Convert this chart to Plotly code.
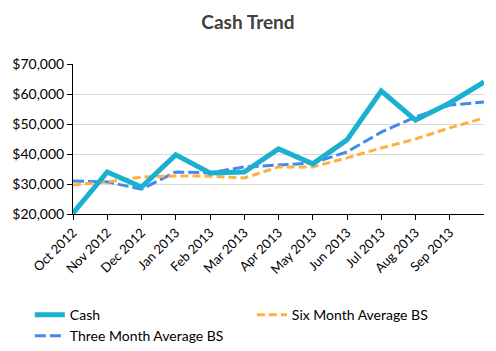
import plotly.graph_objects as go

months = ["Oct 2012", "Nov 2012", "Dec 2012", "Jan 2013", "Feb 2013", "Mar 2013",
          "Apr 2013", "May 2013", "Jun 2013", "Jul 2013", "Aug 2013", "Sep 2013", ""]
cash = [20300, 34000, 29000, 39700, 33700, 34000, 41700, 36700, 44700, 61000, 51300, 57000, 64000]
three_month = [31000, 30700, 28300, 34000, 33700, 35700, 36300, 37000, 40700, 47300, 52300, 56300, 57300]
six_month = [29700, 30700, 32300, 32700, 32600, 32000, 35700, 35700, 38700, 42000, 45000, 48700, 52000]
y_ticks = [20000, 30000, 40000, 50000, 60000, 70000]

x = list(range(len(months)))
font = "Lato"

fig = go.Figure()
fig.add_trace(go.Scatter(x=x, y=three_month, name="Three Month Average BS", mode="lines",
                         line=dict(color="#4488ee", width=3, dash="11px,4px"), legendrank=3))
fig.add_trace(go.Scatter(x=x, y=six_month, name="Six Month Average BS", mode="lines",
                         line=dict(color="#ffb040", width=3, dash="8px,4px"), legendrank=2))
fig.add_trace(go.Scatter(x=x, y=cash, name="Cash", mode="lines",
                         line=dict(color="#1ab0d0", width=5), legendrank=1))

fig.update_layout(
    width=496, height=351,
    margin=dict(l=73, r=12, t=64, b=137, autoexpand=False),
    paper_bgcolor="white", plot_bgcolor="white",
    font=dict(family=font, size=13, color="#000000"),
    title=dict(text="<b>Cash Trend</b>", x=0.5, xanchor="center", y=0.935, yanchor="middle",
               font=dict(family=font, size=19, color="#404040")),
    xaxis=dict(range=[0, 12], tickmode="array", tickvals=x[:-1], ticktext=months[:-1],
               tickangle=-45, showgrid=False, showline=True, linecolor="black", linewidth=1,
               ticks="outside", ticklen=5, tickcolor="black", zeroline=False, automargin=False,
               tickfont=dict(family=font, size=13)),
    yaxis=dict(range=[20000, 70000], tickmode="array", tickvals=y_ticks,
               ticktext=["${:,}".format(v) for v in y_ticks],
               showgrid=True, gridcolor="#d9d9d9", gridwidth=1, automargin=False,
               showline=True, linecolor="black", linewidth=1,
               ticks="outside", ticklen=5, tickcolor="black", zeroline=False,
               tickfont=dict(family=font, size=14)),
    legend=dict(orientation="h", x=-0.105, xanchor="left", y=-0.567, yanchor="top",
                entrywidth=177, entrywidthmode="pixels", traceorder="normal",
                font=dict(family=font, size=14), bgcolor="rgba(0,0,0,0)"),
    showlegend=True,
)

fig.write_html("out.html")
